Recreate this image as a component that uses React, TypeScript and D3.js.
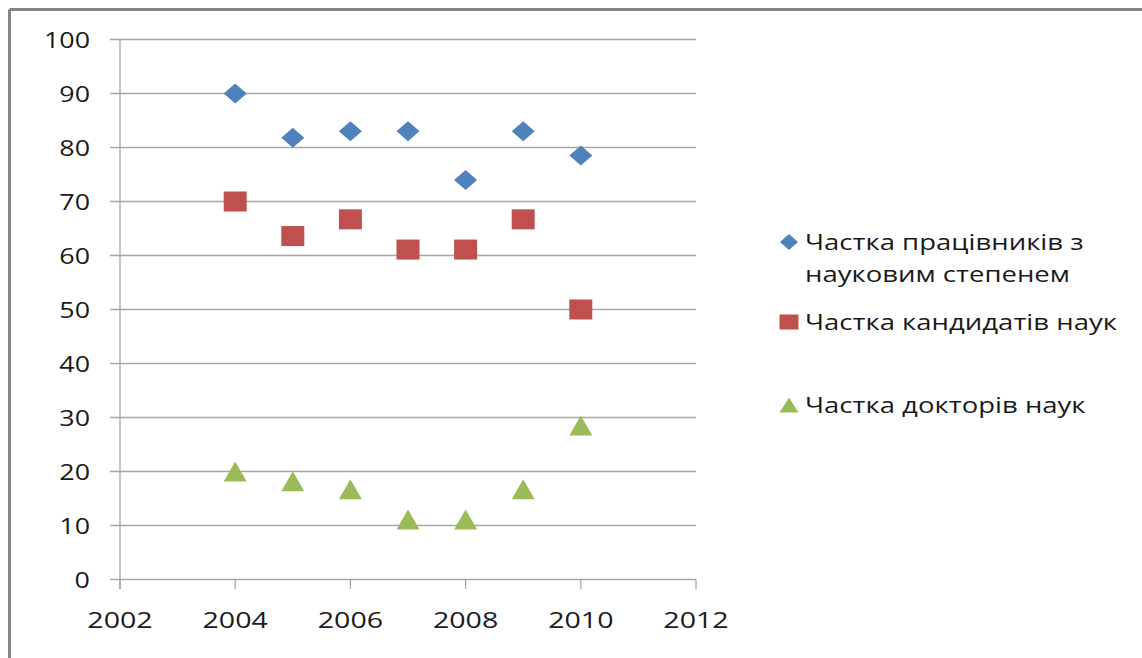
import React from "react";
import * as d3 from "d3";

const years = [2004, 2005, 2006, 2007, 2008, 2009, 2010];
const degreeShare = [90, 81.8, 83, 83, 74, 83, 78.5];
const candidateShare = [70, 63.6, 66.7, 61.1, 61.1, 66.7, 50];
const doctorShare = [20, 18.2, 16.7, 11.1, 11.1, 16.7, 28.5];
const seriesNames = [
  ["Частка працівників з", "науковим степенем"],
  ["Частка кандидатів наук"],
  ["Частка докторів наук"],
];
const xTicks = [2002, 2004, 2006, 2008, 2010, 2012];
const yTicks = [0, 10, 20, 30, 40, 50, 60, 70, 80, 90, 100];

const W = 1142;
const H = 658;
const FONT = "'Open Sans', 'DejaVu Sans', sans-serif";
const colors = ["#4F81BD", "#C0504D", "#9BBB59"];
const gridColor = "#A6A6A6";

function marker(kind: number, x: number, y: number, w: number, h: number, fill: string, key?: string) {
  if (kind === 0) {
    const p = `M${x},${y - h / 2}L${x + w / 2},${y}L${x},${y + h / 2}L${x - w / 2},${y}Z`;
    return <path key={key} d={p} fill={fill} />;
  }
  if (kind === 1) {
    return <rect key={key} x={x - w / 2} y={y - h / 2} width={w} height={h} fill={fill} />;
  }
  const p = `M${x},${y - h / 2}L${x + w / 2},${y + h / 2}L${x - w / 2},${y + h / 2}Z`;
  return <path key={key} d={p} fill={fill} />;
}

function SText({ x, y, anchor, size, sx, children }: any) {
  return (
    <text
      transform={`translate(${x},${y}) scale(${sx},1)`}
      textAnchor={anchor}
      fontFamily={FONT}
      fontSize={size}
      fill="#1a1a1a"
    >
      {children}
    </text>
  );
}

export default function App() {
  const x = d3.scaleLinear().domain([2002, 2012]).range([120, 696]);
  const y = d3.scaleLinear().domain([0, 100]).range([579.5, 39.5]);
  const series = [degreeShare, candidateShare, doctorShare];
  const legendY = [[242, 274], [322], [405]];

  return (
    <svg width={W} height={H} style={{ position: "absolute", left: 0, top: 0 }}>
      <rect x={0} y={0} width={W} height={H} fill="#fff" />
      {/* outer frame */}
      <line x1={9.5} y1={9.5} x2={W} y2={9.5} stroke="#858585" strokeWidth={3} />
      <line x1={9.5} y1={9.5} x2={9.5} y2={H} stroke="#858585" strokeWidth={3} />

      {/* gridlines + y ticks */}
      {yTicks.map((t) => (
        <g key={"y" + t}>
          <line x1={110} x2={x(2012)} y1={y(t)} y2={y(t)} stroke={gridColor} strokeWidth={1.3} />
          <SText x={90} y={y(t) + 8} anchor="end" size={21} sx={1.28}>
            {t}
          </SText>
        </g>
      ))}
      {/* y axis */}
      <line x1={120} x2={120} y1={y(100)} y2={589} stroke={gridColor} strokeWidth={1.3} />
      {/* x ticks */}
      {xTicks.map((t) => (
        <g key={"x" + t}>
          <line x1={x(t)} x2={x(t)} y1={y(0)} y2={589} stroke={gridColor} strokeWidth={1.3} />
          <SText x={x(t)} y={628} anchor="middle" size={21.5} sx={1.33}>
            {t}
          </SText>
        </g>
      ))}

      {/* markers */}
      {series.map((vals, si) =>
        vals.map((v, i) => marker(si, x(years[i]), y(v), 23, 20, colors[si], `m${si}-${i}`))
      )}

      {/* legend */}
      {seriesNames.map((lines, si) => (
        <g key={"l" + si}>
          {marker(si, 789, legendY[si][0], si === 0 ? 18 : 19, si === 0 ? 16 : 15, colors[si])}
          {lines.map((ln, li) => (
            <SText key={li} x={805} y={legendY[si][li] + 8} anchor="start" size={21} sx={1.31}>
              {ln}
            </SText>
          ))}
        </g>
      ))}
    </svg>
  );
}
